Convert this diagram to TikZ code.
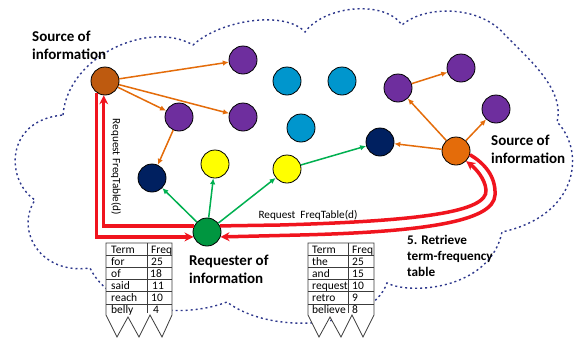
\documentclass[tikz,border=0pt]{standalone}
\usepackage{fontspec}
\setmainfont{Carlito}
\usetikzlibrary{arrows.meta}
\definecolor{cloudblue}{RGB}{45,55,140}
\definecolor{srcA}{RGB}{190,90,15}
\definecolor{srcB}{RGB}{228,108,10}
\definecolor{purp}{RGB}{110,46,158}
\definecolor{cyanc}{RGB}{0,150,205}
\definecolor{navy}{RGB}{0,32,96}
\definecolor{yel}{RGB}{255,255,0}
\definecolor{grn}{RGB}{0,150,64}
\definecolor{oarrow}{RGB}{228,108,10}
\definecolor{garrow}{RGB}{0,176,80}
\definecolor{rarrow}{RGB}{240,20,30}
\definecolor{tline}{RGB}{60,60,60}
\begin{document}
\begin{tikzpicture}[x=1pt,y=-1pt,
 dot/.style={circle,draw=black,line width=0.8pt,minimum size=28pt,inner sep=0pt},
 oarr/.style={draw=oarrow,line width=1.5pt,-{Latex[length=6pt,width=5.5pt]}},
 garr/.style={draw=garrow,line width=1.5pt,-{Latex[length=6pt,width=5.5pt]}},
 rarr/.style={draw=rarrow,line width=3.5pt,-{Stealth[length=9pt,width=9pt]}},
 cloudline/.style={draw=cloudblue,line width=1.4pt,dash pattern=on 2pt off 3pt},
 biglbl/.style={font=\bfseries\fontsize{15}{18}\selectfont,align=left,inner sep=0pt,anchor=north west},
 midlbl/.style={font=\bfseries\fontsize{13.2}{16}\selectfont,align=left,inner sep=0pt,anchor=north west},
 smalllbl/.style={font=\fontsize{11.2}{13}\selectfont,inner sep=0pt},
 tt/.style={font=\fontsize{11.5}{13}\selectfont,inner sep=0pt,anchor=base west},
 tbl/.style={draw=tline,line width=0.8pt}
]
\useasboundingbox (0,0) rectangle (583,343);
\fill[white] (0,0) rectangle (583,343);

% cloud
\draw[cloudline] (63,115) .. controls (68,55) and (150,20) .. (193,45)
  .. controls (220,20) and (285,10) .. (305,32)
  .. controls (325,5) and (385,0) .. (402,25)
  .. controls (425,5) and (480,5) .. (505,35)
  .. controls (530,60) and (565,90) .. (557,122)
  .. controls (585,150) and (580,215) .. (502,232)
  .. controls (490,290) and (410,295) .. (387,283)
  .. controls (370,330) and (270,335) .. (227,302)
  .. controls (180,320) and (110,310) .. (90,268)
  .. controls (40,275) and (15,230) .. (35,200)
  .. controls (5,180) and (5,120) .. (63,115);

% nodes
\node[dot,fill=srcA] (S1) at (105,81) {};
\node[dot,fill=purp] (P1) at (243,60) {};
\node[dot,fill=purp] (P2) at (179,117) {};
\node[dot,fill=purp] (P3) at (243,117) {};
\node[dot,fill=cyanc] (C1) at (287,81) {};
\node[dot,fill=cyanc] (C2) at (342,81) {};
\node[dot,fill=cyanc] (C3) at (301,128) {};
\node[dot,fill=purp] (P4) at (398,88) {};
\node[dot,fill=purp] (P5) at (461,68) {};
\node[dot,fill=purp] (P6) at (496,109) {};
\node[dot,fill=navy] (N2) at (380,142) {};
\node[dot,fill=srcB] (S2) at (456,151) {};
\node[dot,fill=navy] (N1) at (152,178) {};
\node[dot,fill=yel] (Y1) at (215,164) {};
\node[dot,fill=yel] (Y2) at (287,169) {};
\node[dot,fill=grn] (G) at (207,232) {};

% orange arrows
\draw[oarr] (S1) -- (P1);
\draw[oarr] (S1) -- (P2);
\draw[oarr] (S1) -- (P3);
\draw[oarr] (P2) -- (N1);
\draw[oarr] (S2) -- (N2);
\draw[oarr] (S2) -- (P4);
\draw[oarr] (S2) -- (P6);
\draw[oarr] (P4) -- (P5);

% green arrows
\draw[garr] (G) -- (N1);
\draw[garr] (G) -- (Y1);
\draw[garr] (G) -- (Y2);
\draw[garr] (Y2) -- (N2);

% red arrows
\draw[rarr] (S1.235) |- (G.200);
\draw[rarr] (G.155) -| (S1.265);
\draw[rarr] (G.25) -- (280,225) .. controls (420,221) and (488,212) .. (486,190)
  .. controls (485,178) and (475,168) .. (S2.315);
\draw[rarr] (S2.345) .. controls (484,163) and (496,176) .. (495,195)
  .. controls (494,222) and (420,232) .. (300,235) -- (G.340);

% red labels
\node[smalllbl,rotate=-90] (reqv) at (116,167) {Request FreqTable(d)};
\node[smalllbl] (reqh) at (308,215) {Request\ \ FreqTable(d)};

% big labels
\node[biglbl] (lblS1) at (32,31) {Source of\\information};
\node[biglbl] (lblS2) at (491,135) {Source of\\information};
\node[biglbl] (lblG) at (189,254.5) {Requester of\\information};
\node[midlbl] (lblR) at (407,235) {5. Retrieve\\term-frequency\\table};

% left table
\begin{scope}[shift={(106,243)}]
\filldraw[tbl,fill=white] (0,0) -- (66,0) -- (66,72) -- (56,94) -- (44,72) -- (33,94) -- (22,74) -- (11,94) -- (0,72) -- cycle;
\draw[tbl] (0,12) -- (66,12) (0,24) -- (66,24) (0,36) -- (66,36) (0,48) -- (66,48) (0,61) -- (66,61);
\draw[tbl] (41,0) -- (41,70);
\end{scope}
\node[tt] (la0) at (111,253.5) {Term};
\node[tt] (lb0) at (151,253.5) {Freq};
\node[tt] (la1) at (111,265) {for};
\node[tt] (lb1) at (151,265) {25};
\node[tt] (la2) at (111,277) {of};
\node[tt] (lb2) at (150,277) {18};
\node[tt] (la3) at (111,289) {said};
\node[tt] (lb3) at (152,289) {11};
\node[tt] (la4) at (111,301) {reach};
\node[tt] (lb4) at (151,301) {10};
\node[tt] (la5) at (111,313) {belly};
\node[tt] (lb5) at (153,313) {4};

% right table
\begin{scope}[shift={(308,243)}]
\filldraw[tbl,fill=white] (0,0) -- (66,0) -- (66,72) -- (55,94) -- (44,72) -- (33,94) -- (22,74) -- (11,94) -- (0,72) -- cycle;
\draw[tbl] (0,12) -- (66,12) (0,24) -- (66,24) (0,36) -- (66,36) (0,48) -- (66,48) (0,61) -- (66,61);
\draw[tbl] (40,0) -- (40,70);
\end{scope}
\node[tt] (ra0) at (312,253.5) {Term};
\node[tt] (rb0) at (352,253.5) {Freq};
\node[tt] (ra1) at (312,265) {the};
\node[tt] (rb1) at (352,265) {25};
\node[tt] (ra2) at (312,277) {and};
\node[tt] (rb2) at (352,277) {15};
\node[tt] (ra3) at (312,289) {request};
\node[tt] (rb3) at (352,289) {10};
\node[tt] (ra4) at (312,301) {retro};
\node[tt] (rb4) at (352,301) {9};
\node[tt] (ra5) at (312,313) {believe};
\node[tt] (rb5) at (352,313) {8};
\end{tikzpicture}
\end{document}
